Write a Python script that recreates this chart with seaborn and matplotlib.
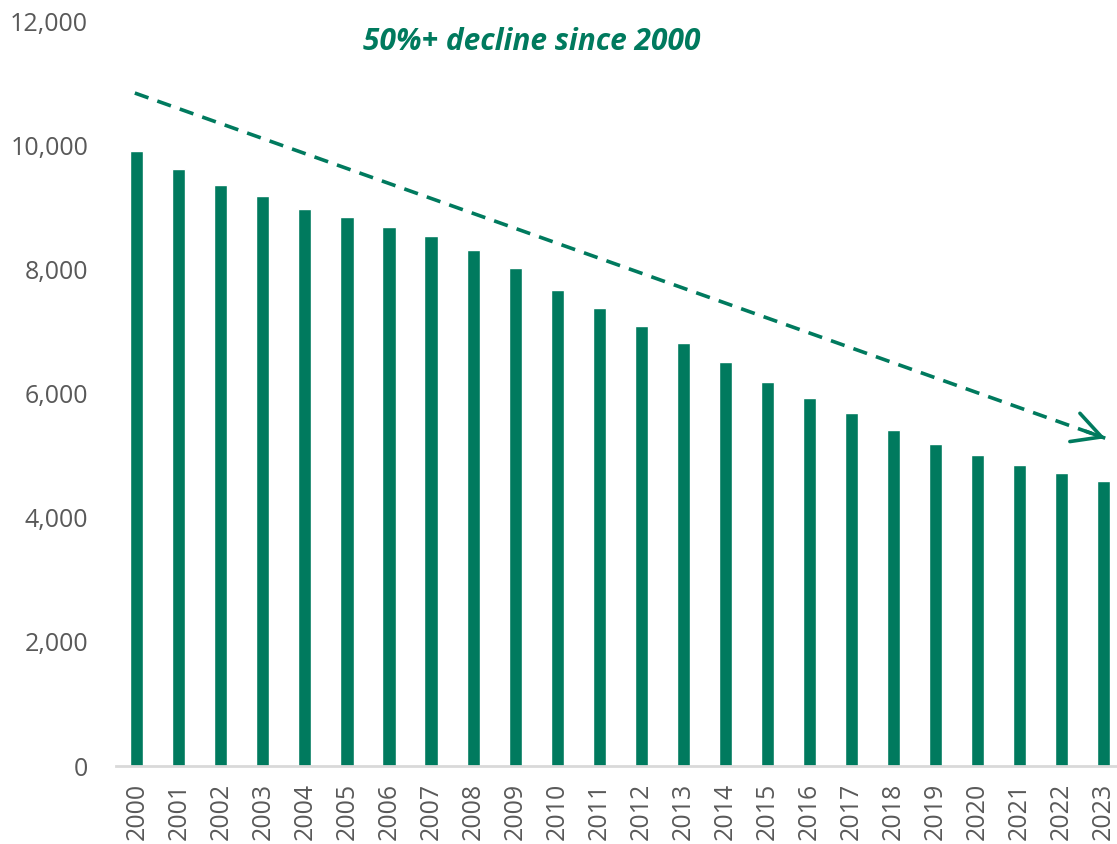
import pandas as pd
import matplotlib
matplotlib.use('Agg')
import matplotlib.pyplot as plt
import seaborn as sns

# Data
years = [str(y) for y in range(2000, 2024)]
counts = [9900, 9615, 9360, 9185, 8980, 8840, 8685, 8540, 8310, 8020,
          7665, 7370, 7095, 6820, 6515, 6190, 5920, 5680, 5415, 5180,
          5010, 4850, 4715, 4595]
y_ticks = [0, 2000, 4000, 6000, 8000, 10000, 12000]
note_text = '50%+ decline since 2000'
trend_start = (-0.05, 10840)
trend_end = (23.05, 5280)

green = '#007A5E'
grey = '#595959'

sns.set_theme(style='white')
plt.rcParams['font.family'] = ['Open Sans', 'DejaVu Sans']

df = pd.DataFrame({'Year': years, 'Count': counts})

fig = plt.figure(figsize=(11.17, 8.44), dpi=100)
ax = fig.add_axes([0.1038, 0.0924, 0.8962, 0.8827])

sns.barplot(data=df, x='Year', y='Count', color=green, width=0.31,
            saturation=1, ax=ax)

ax.set_ylim(0, 12000)
ax.set_xlim(-0.5, 23.33)
ax.set_yticks(y_ticks)
ax.set_yticklabels([f'{v:,}' for v in y_ticks])
ax.set_xlabel('')
ax.set_ylabel('')
ax.tick_params(axis='y', length=0, pad=20, labelsize=18, labelcolor=grey)
ax.tick_params(axis='x', length=0, pad=12, labelsize=18, labelcolor=grey,
               labelrotation=90)

for s in ['top', 'right', 'left']:
    ax.spines[s].set_visible(False)
ax.spines['bottom'].set_color('#D9D9D9')
ax.spines['bottom'].set_linewidth(2)

# dashed trend line with open arrow head
ax.plot([trend_start[0], trend_end[0]], [trend_start[1], trend_end[1]],
        color=green, lw=2.6, linestyle=(0, (4, 2.6)), clip_on=False)
dx = trend_end[0] - trend_start[0]
dy = trend_end[1] - trend_start[1]
ax.annotate('', xy=trend_end,
            xytext=(trend_end[0] - dx * 0.02, trend_end[1] - dy * 0.02),
            arrowprops=dict(arrowstyle='->,head_length=0.85,head_width=0.45',
                            color=green, lw=2.6, mutation_scale=24,
                            shrinkA=0, shrinkB=0),
            annotation_clip=False)

ax.text(9.4, 11660, note_text, color=green, fontsize=21.5, fontweight='bold',
        fontstyle='italic', ha='center', va='center')

plt.savefig('out.png', dpi=100)
